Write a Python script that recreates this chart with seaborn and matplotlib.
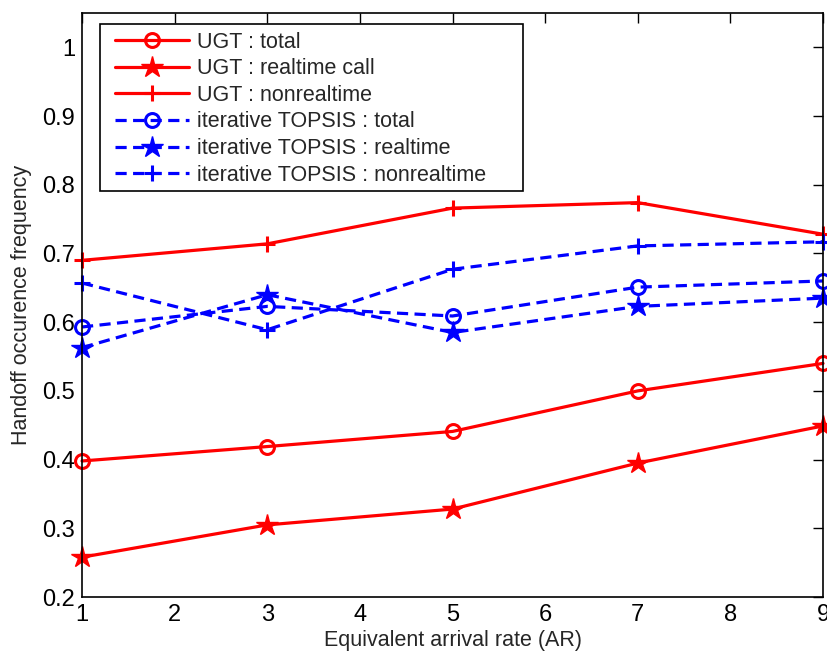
import matplotlib
matplotlib.use("Agg")
import matplotlib.pyplot as plt
from matplotlib.patches import Rectangle
import pandas as pd
import seaborn as sns

ar = [1, 3, 5, 7, 9]
ugt_total = [0.398, 0.419, 0.441, 0.500, 0.540]
ugt_realtime = [0.258, 0.305, 0.328, 0.395, 0.449]
ugt_nonrealtime = [0.690, 0.714, 0.766, 0.774, 0.728]
topsis_total = [0.593, 0.623, 0.609, 0.651, 0.660]
topsis_realtime = [0.563, 0.640, 0.585, 0.623, 0.635]
topsis_nonrealtime = [0.657, 0.589, 0.677, 0.711, 0.717]

labels = [
    "UGT : total",
    "UGT : realtime call",
    "UGT : nonrealtime",
    "iterative TOPSIS : total",
    "iterative TOPSIS : realtime",
    "iterative TOPSIS : nonrealtime",
]
series = [ugt_total, ugt_realtime, ugt_nonrealtime,
          topsis_total, topsis_realtime, topsis_nonrealtime]

sns.set_style("white")
plt.rcParams["font.family"] = ["Liberation Sans", "DejaVu Sans"]

fig = plt.figure(figsize=(8.27, 6.55), dpi=100)
ax = fig.add_axes([0.0992, 0.0885, 0.896, 0.8917])

dash = (0, (3.5, 2))
styles = [
    dict(color="#ff0000", marker="o", markersize=10, mfc="none", mew=2.2, ls="-"),
    dict(color="#ff0000", marker="*", markersize=16, mew=1, ls="-"),
    dict(color="#ff0000", marker="+", markersize=12, mew=2.2, ls="-"),
    dict(color="#0000ff", marker="o", markersize=10, mfc="none", mew=2.2, ls=dash),
    dict(color="#0000ff", marker="*", markersize=16, mew=1, ls=dash),
    dict(color="#0000ff", marker="+", markersize=12, mew=2.2, ls=dash),
]

for lab, vals, st in zip(labels, series, styles):
    df = pd.DataFrame({"AR": ar, "freq": vals})
    sns.lineplot(data=df, x="AR", y="freq", ax=ax, label=lab, lw=2.3,
                 color=st["color"], marker=st["marker"], markersize=st["markersize"],
                 markerfacecolor=st.get("mfc", st["color"]),
                 markeredgecolor=st["color"], markeredgewidth=st["mew"],
                 linestyle=st["ls"], clip_on=False)

ax.set_xlim(1, 9)
ax.set_ylim(0.2, 1.05)
ax.set_xticks(range(1, 10))
ax.set_yticks([0.2, 0.3, 0.4, 0.5, 0.6, 0.7, 0.8, 0.9, 1.0])
ax.set_yticklabels(["0.2", "0.3", "0.4", "0.5", "0.6", "0.7", "0.8", "0.9", "1"])
ax.tick_params(direction="in", length=7, width=1, top=True, right=True,
               labelsize=17, colors="black", pad=5)
for sp in ax.spines.values():
    sp.set_visible(True)
    sp.set_color("black")
    sp.set_linewidth(1.2)

ax.set_xlabel("Equivalent arrival rate (AR)", fontsize=15.5, labelpad=3)
ax.set_ylabel("Handoff occurence frequency", fontsize=15.5, labelpad=7)

# MATLAB-style legend box with extra room on the right
box = Rectangle((0.0243, 0.695), 0.5707, 0.286, transform=ax.transAxes,
                facecolor="white", edgecolor="black", lw=1.2, zorder=4)
ax.add_patch(box)
leg = ax.legend(loc="upper left", bbox_to_anchor=(0.0351, 0.979), borderaxespad=0,
                fontsize=15.5, handlelength=3.45, handletextpad=0.38, labelspacing=0.26,
                frameon=False, borderpad=0.3)
leg.set_zorder(5)

fig.savefig("out.png", dpi=100)
plt.close(fig)
